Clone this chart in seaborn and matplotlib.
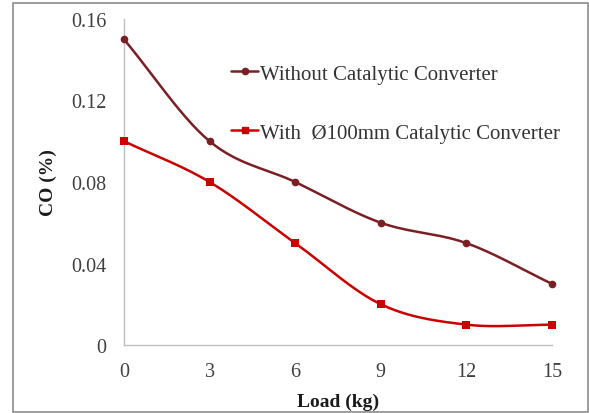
import numpy as np
import pandas as pd
import seaborn as sns
import matplotlib
matplotlib.use("Agg")
import matplotlib.pyplot as plt
from matplotlib.lines import Line2D
from matplotlib.patches import Rectangle

load = [0, 3, 6, 9, 12, 15]
without_cc = [0.15, 0.10, 0.08, 0.06, 0.05, 0.03]
with_cc = [0.10, 0.08, 0.05, 0.02, 0.01, 0.01]
series_names = ["Without Catalytic Converter", "With  Ø100mm Catalytic Converter"]
x_ticks = [0, 3, 6, 9, 12, 15]
y_ticks = [0, 0.04, 0.08, 0.12, 0.16]
y_tick_labels = ["0", "0.04", "0.08", "0.12", "0.16"]

sns.set_theme(style="white")
plt.rcParams['font.family'] = ['Liberation Serif', 'DejaVu Serif']

def smooth(x, y, n=30):
    # Catmull-Rom style smoothing similar to spreadsheet "smoothed line"
    x = np.asarray(x, float); y = np.asarray(y, float)
    px = np.concatenate([[2*x[0]-x[1]], x, [2*x[-1]-x[-2]]])
    py = np.concatenate([[2*y[0]-y[1]], y, [2*y[-1]-y[-2]]])
    xs, ys = [], []
    t = np.linspace(0, 1, n)
    for i in range(1, len(px)-2):
        p0, p1, p2, p3 = (np.array([px[j], py[j]]) for j in range(i-1, i+3))
        b1 = p1 + (p2 - p0) / 6
        b2 = p2 - (p3 - p1) / 6
        pts = ((1-t)**3)[:, None]*p1 + (3*(1-t)**2*t)[:, None]*b1 + (3*(1-t)*t**2)[:, None]*b2 + (t**3)[:, None]*p2
        xs.extend(pts[:, 0]); ys.extend(pts[:, 1])
    return np.array(xs), np.array(ys)

fig = plt.figure(figsize=(5.89, 4.14), dpi=100)
ax = fig.add_axes([124/589, 1-346/414, (552-124)/589, (346-20)/414])

c1 = "#7A1F24"
c2 = "#CC0000"

for yv, col, mk, ms in [(without_cc, c1, "o", 5.5), (with_cc, c2, "s", 6)]:
    sx, sy = smooth(load, yv)
    sns.lineplot(x=sx, y=sy, ax=ax, color=col, lw=1.8, sort=False, estimator=None)
    sns.scatterplot(x=load, y=yv, ax=ax, color=col, marker=mk, s=ms**2, edgecolor=col, linewidth=0, zorder=5)

ax.set_xlim(0, 15)
ax.set_ylim(0, 0.16)
ax.set_xticks(x_ticks)
ax.set_xticklabels([str(v) for v in x_ticks])
ax.set_yticks(y_ticks)
ax.set_yticklabels(y_tick_labels)
ax.tick_params(axis='both', labelsize=14.5, colors="#404040", length=0)
ax.tick_params(axis='x', pad=12)
ax.tick_params(axis='y', pad=12.5)
for s in ["top", "right"]:
    ax.spines[s].set_visible(False)
for s in ["left", "bottom"]:
    ax.spines[s].set_color("#BFBFBF")
    ax.spines[s].set_linewidth(1)
ax.set_xlabel("Load (kg)", fontsize=14, fontweight="bold", color="#1A1A1A", labelpad=8.5)
ax.set_ylabel("CO (%)", fontsize=14, fontweight="bold", color="#1A1A1A", labelpad=10)
for ln in ax.lines:
    ln.set_clip_on(False)
for coll in ax.collections:
    coll.set_clip_on(False)

handles = [Line2D([0], [0], color=c1, marker="o", ms=4.5, lw=1.8),
           Line2D([0], [0], color=c2, marker="s", ms=5, lw=1.8)]
leg = ax.legend(handles, series_names, loc="upper left", bbox_to_anchor=(0.25, 0.862),
                frameon=False, fontsize=15, labelspacing=1.9, handlelength=1.3,
                handletextpad=0.1, borderaxespad=0, borderpad=0)
for t in leg.get_texts():
    t.set_color("#333333")

fig.patches.append(Rectangle((13/589, 1/414), 575/589, 409/414, transform=fig.transFigure,
                             fill=False, edgecolor="#8C8C8C", lw=1.2))

fig.savefig("out.png", dpi=100)
